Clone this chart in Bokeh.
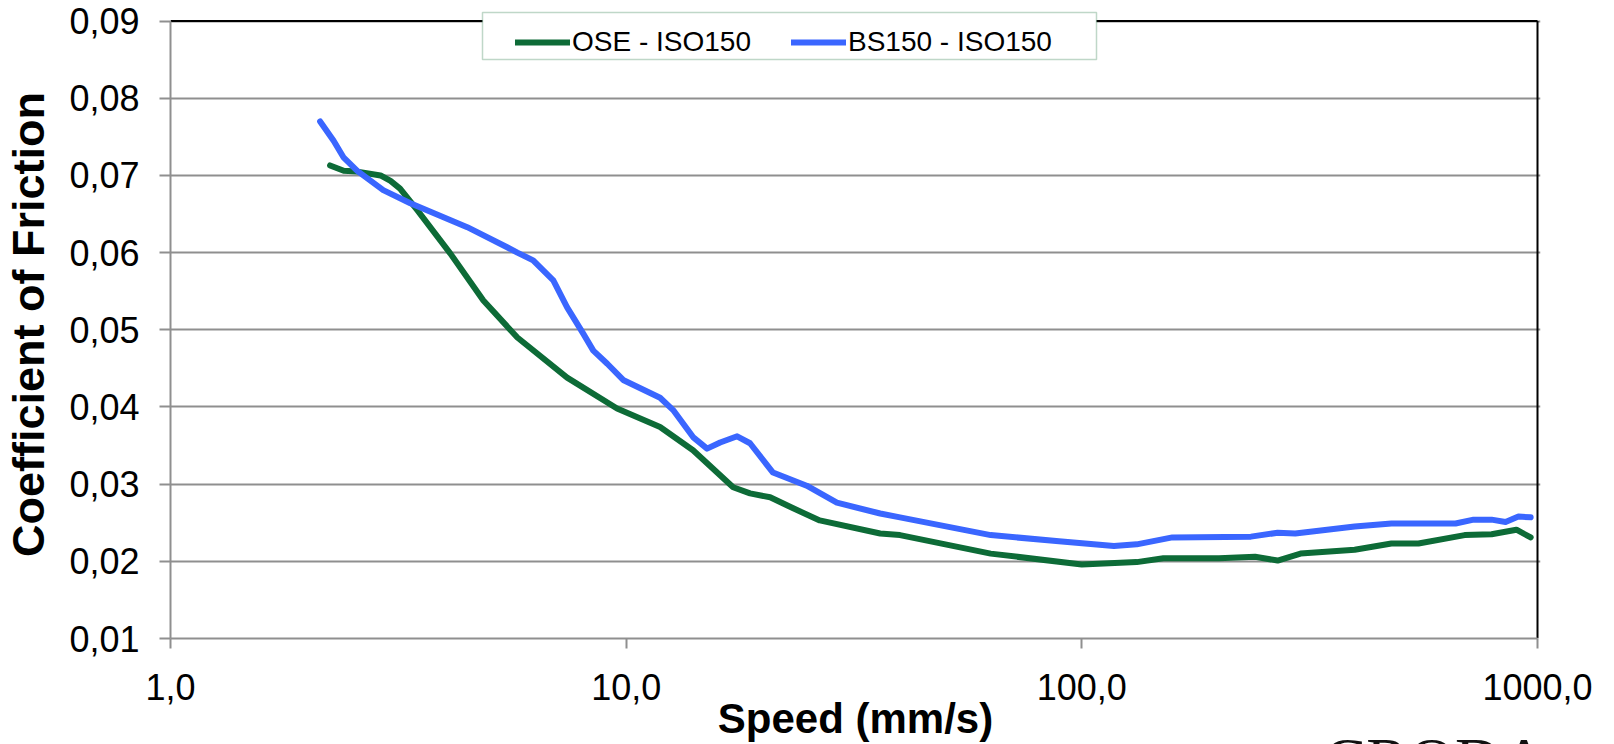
import math
from bokeh.plotting import figure
from bokeh.models import (Range1d, FixedTicker, CustomJSTickFormatter, Legend, LegendItem,
                          BoxAnnotation, LogAxis)
from bokeh.embed import file_html
from bokeh.resources import INLINE

# ---------------- data ----------------
ose_speed = [2.24, 2.40, 2.57, 2.89, 3.04, 3.19, 3.48, 4.11, 4.86, 5.77, 7.42, 9.55, 11.87, 14.02,
             17.17, 18.7, 20.7, 23.2, 26.6, 36.1, 39.9, 63.1, 100, 132, 151, 200, 240, 269,
             302, 397, 478, 548, 692, 793, 899, 966]
ose_cof = [0.0713, 0.0706, 0.0705, 0.0700, 0.0693, 0.0683, 0.0655, 0.0599, 0.0538, 0.0490, 0.0438,
           0.0398, 0.0374, 0.0344, 0.0296, 0.0288, 0.0283, 0.0269, 0.0253, 0.0236, 0.0234,
           0.0210, 0.0196, 0.0199, 0.0204, 0.0204, 0.0206, 0.0201, 0.0210, 0.0215, 0.0223,
           0.0223, 0.0234, 0.0235, 0.0241, 0.0231]

bs_speed = [2.13, 2.28, 2.40, 2.57, 2.93, 3.36, 4.48, 5.48, 5.77, 6.25, 6.92, 7.42, 8.05, 8.47, 9.09,
            9.85, 11.87, 12.68, 14.02, 15.05, 16.08, 17.52, 18.70, 21.0, 23.2, 24.9, 29.0,
            36.1, 39.9, 63.1, 89.1, 117.6, 132, 158, 235, 269, 294, 397, 478, 661, 724, 793,
            851, 908, 966]
bs_cof = [0.0770, 0.0745, 0.0723, 0.0706, 0.0681, 0.0664, 0.0633, 0.0607, 0.0600, 0.0590, 0.0564, 0.0529,
          0.0495, 0.0473, 0.0456, 0.0435, 0.0412, 0.0396, 0.0361, 0.0346, 0.0354, 0.0362,
          0.0353, 0.0315, 0.0305, 0.0298, 0.0276, 0.0262, 0.0257, 0.0234, 0.0226, 0.0220,
          0.0222, 0.0231, 0.0232, 0.0237, 0.0236, 0.0245, 0.0249, 0.0249, 0.0254, 0.0254,
          0.0251, 0.0258, 0.0257]

series_names = ["OSE - ISO150", "BS150 - ISO150"]
x_ticks = [1, 10, 100, 1000]
x_tick_labels = ["1,0", "10,0", "100,0", "1000,0"]
y_ticks = [0.01, 0.02, 0.03, 0.04, 0.05, 0.06, 0.07, 0.08, 0.09]
y_tick_labels = ["0,01", "0,02", "0,03", "0,04", "0,05", "0,06", "0,07", "0,08", "0,09"]
x_title = "Speed (mm/s)"
y_title = "Coefficient of Friction"
logo_text = "CRODA"

# ---------------- layout / styles ----------------
W, H = 1614, 744
LEFT, RIGHT, TOP, BOTTOM = 170, 1540, 10, 638   # frame edges in canvas pixels
X_AX_END_PX = 1537                              # pixel of the last x tick
Y_AX_TOP_PX = 20.6                              # pixel of the last y tick
LOGO_CENTER_PX = 1435
GREEN = "#0d6b37"
BLUE = "#3a66ff"
GRID = "#8f8f8f"
FONT = "Liberation Sans"

x0, x1 = x_ticks[0], x_ticks[-1]
dec_px = (X_AX_END_PX - LEFT) / math.log10(x1 / x0)
x_end = x1 * 10 ** ((RIGHT - X_AX_END_PX) / dec_px)
y0, y1 = y_ticks[0], y_ticks[-1]
px_per_unit = (BOTTOM - Y_AX_TOP_PX) / (y1 - y0)
y_end = y1 + (Y_AX_TOP_PX - TOP) / px_per_unit

def px_to_x(px):
    return x0 * 10 ** ((px - LEFT) / dec_px)

def px_to_y(py):
    return y1 - (py - Y_AX_TOP_PX) / px_per_unit

p = figure(width=W, height=H, x_axis_type="log", output_backend="svg",
           toolbar_location=None, x_range=Range1d(x0, x_end), y_range=Range1d(y0, y_end),
           min_border_left=LEFT, min_border_right=W - RIGHT, min_border_top=TOP,
           min_border_bottom=H - BOTTOM)
p.outline_line_color = None
p.background_fill_color = "white"
p.border_fill_color = "white"

# black top and right chart lines
p.segment(x0=[x0, x1], y0=[y1, y0], x1=[x1, x1], y1=[y1, y1], line_color="black", line_width=2)

r_ose = p.line(ose_speed, ose_cof, line_color=GREEN, line_width=6, line_join="round", line_cap="round")
r_bs = p.line(bs_speed, bs_cof, line_color=BLUE, line_width=6, line_join="round", line_cap="round")

tick_fmt_code = """
let best = 0;
for (let i = 0; i < tvals.length; i++) {
  if (Math.abs(tvals[i] - tick) < Math.abs(tvals[best] - tick)) best = i;
}
return tlabels[best];
"""

xa = p.xaxis[0]
xa.ticker = FixedTicker(ticks=x_ticks)
xa.formatter = CustomJSTickFormatter(args=dict(tvals=x_ticks, tlabels=x_tick_labels), code=tick_fmt_code)
xa.bounds = (x0, x1)
ya = p.yaxis[0]
ya.ticker = FixedTicker(ticks=y_ticks)
ya.formatter = CustomJSTickFormatter(args=dict(tvals=y_ticks, tlabels=y_tick_labels), code=tick_fmt_code)
ya.bounds = (y0, y1)

for ax in (xa, ya):
    ax.axis_line_color = GRID
    ax.axis_line_width = 2
    ax.major_tick_line_color = GRID
    ax.major_tick_line_width = 2
    ax.major_tick_in = 0
    ax.minor_tick_line_color = None
    ax.major_label_text_font = FONT
    ax.major_label_text_font_size = "36px"
    ax.major_label_text_color = "black"
    ax.axis_label_text_font = FONT
    ax.axis_label_text_font_style = "bold"
    ax.axis_label_text_color = "black"
xa.major_tick_out = 10
xa.major_label_standoff = 25
ya.major_tick_out = 11
ya.major_label_standoff = 20
ya.axis_label = y_title
ya.axis_label_text_font_size = "45px"
ya.axis_label_standoff = 12

# second (unlined) x axis carrying the logo text and the x axis title
logo_x = px_to_x(LOGO_CENTER_PX)
la = LogAxis(ticker=FixedTicker(ticks=[logo_x]),
             formatter=CustomJSTickFormatter(args=dict(logo=logo_text), code="return logo;"))
la.axis_line_color = None
la.major_tick_line_color = None
la.minor_tick_line_color = None
la.major_tick_in = 0
la.major_tick_out = 0
la.major_label_standoff = 22
la.major_label_text_font = "Liberation Serif"
la.major_label_text_font_size = "64px"
la.major_label_text_color = "#111111"
la.axis_label = x_title
la.axis_label_standoff = -104
la.axis_label_text_font = FONT
la.axis_label_text_font_size = "42px"
la.axis_label_text_font_style = "bold"
la.axis_label_text_color = "black"
p.add_layout(la, "below")

p.xgrid.grid_line_color = None
p.ygrid.ticker = FixedTicker(ticks=y_ticks)
p.ygrid.grid_line_color = GRID
p.ygrid.grid_line_width = 2

# legend frame (drawn separately so its padding matches the reference)
p.add_layout(BoxAnnotation(left=px_to_x(482), right=px_to_x(1096), top=px_to_y(12),
                           bottom=px_to_y(59), fill_color="white", fill_alpha=1,
                           line_color="#2a7a48", line_width=1.5))

legend = Legend(items=[LegendItem(label=series_names[0], renderers=[r_ose]),
                       LegendItem(label=series_names[1], renderers=[r_bs])],
                orientation="horizontal", location=(523 - 8 - LEFT, BOTTOM - 58))
legend.label_text_font = FONT
legend.label_text_font_size = "28px"
legend.label_text_color = "black"
legend.glyph_width = 55
legend.glyph_height = 20
legend.label_standoff = 2
legend.spacing = 40
legend.padding = 8
legend.margin = 0
legend.border_line_color = None
legend.background_fill_alpha = 0
p.add_layout(legend, "center")

open("out.html", "w").write(file_html(p, INLINE))
